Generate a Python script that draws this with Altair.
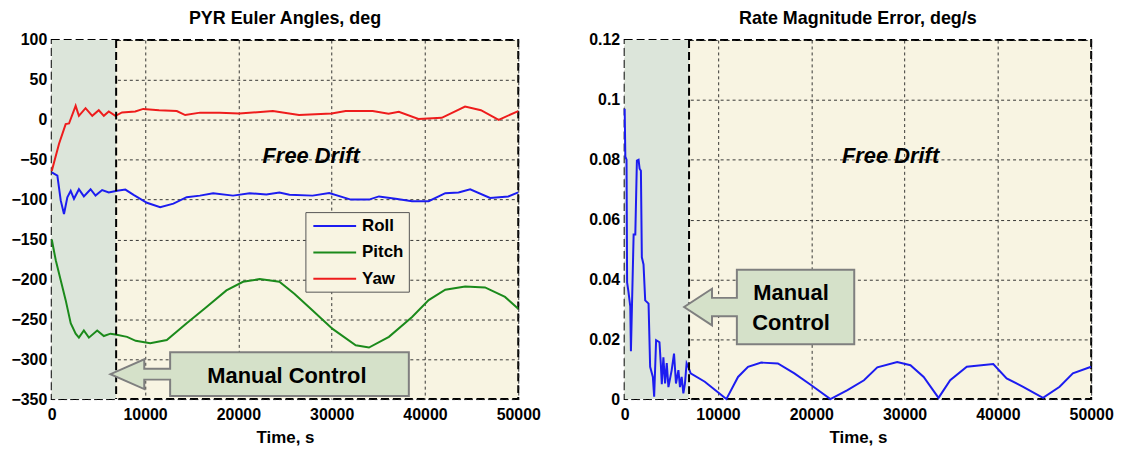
import altair as alt
import pandas as pd

# ---------------- data ----------------
time_ticks = [0, 10000, 20000, 30000, 40000, 50000]
euler_ticks = [100, 50, 0, -50, -100, -150, -200, -250, -300, -350]
rate_ticks = [0, 0.02, 0.04, 0.06, 0.08, 0.1, 0.12]
series_names = ["Roll", "Pitch", "Yaw"]
series_colors = ["#1c1cf0", "#1b8a1b", "#ee1c1c"]

roll_t = [0, 600, 960, 1310, 1670, 2030, 2380, 2910, 3440, 4160, 4690, 5400, 6110, 7000,
          7890, 8770, 10200, 11620, 13040, 14460, 15880, 17300, 19430, 21210, 23000, 24400,
          25480, 27960, 29740, 32050, 34000, 35070, 36850, 38620, 40400, 42180, 43600, 44850,
          46980, 48930, 50000]
roll = [-66, -70, -101, -118, -97, -89, -99, -87, -96, -87, -95, -88, -91, -89,
        -87.5, -94, -104, -109.6, -105, -97, -95, -92, -95, -92, -93.7, -91,
        -94, -95, -91.7, -100, -100, -96, -99, -102, -102, -92, -91, -87,
        -98, -96, -91]

pitch_t = [0, 430, 960, 1490, 2030, 2560, 2910, 3440, 3980, 4870, 5580, 6290, 6820, 8070,
           9000, 10550, 12330, 14460, 16590, 18720, 20500, 22280, 24400, 26000, 27960, 30100,
           32580, 34000, 36140, 38620, 40400, 42180, 44310, 46440, 48580, 50000]
pitch = [-150, -176, -201, -226, -255, -268, -273, -264, -273, -264, -271, -268, -269, -272,
         -277, -280, -276, -255, -234.6, -213.8, -203, -199.6, -203, -218, -239, -262,
         -282.5, -285.4, -272, -247, -226, -213, -208.8, -210, -222, -236.7]

yaw_t = [0, 780, 1490, 1850, 2560, 2910, 3620, 4340, 5040, 5580, 6110, 6820, 7530, 8950,
         9800, 11500, 13400, 14300, 15900, 18000, 20100, 23700, 26500, 30000, 31500, 34400,
         36100, 37200, 39300, 41800, 44300, 46000, 47900, 50000]
yaw = [-64, -30, -5.4, -4.6, 17.5, 5, 14.6, 5, 12, 5, 10.4, 5, 9.2, 10.4,
       13.7, 12, 11, 6, 9, 9, 8, 11, 6, 8, 11, 11,
       7.5, 10, 1, 2.5, 16.6, 12, 0, 11]

rate_t = [0, 70, 200, 260, 400, 600, 670, 960, 1140, 1310,
          1490, 1600, 1740, 1840, 2020, 2200, 2560, 2730, 3020, 3160,
          3370, 3730, 3870, 3980, 4150, 4330, 4510, 4690, 5040, 5290,
          5500, 5760, 5930, 6110, 6290, 6460, 6640, 6820, 7070, 8590,
          10900, 12150, 13220, 14640, 16420, 18190, 19970, 22050, 23880, 25650,
          27080, 29210, 30630, 32050, 33640, 34890, 36670, 39510, 40940, 42710,
          44840, 46620, 48040, 50000]
rate = [0.097, 0.081, 0.080, 0.039, 0.036, 0.031, 0.016, 0.055, 0.055, 0.0797,
        0.080, 0.077, 0.0763, 0.0474, 0.045, 0.033, 0.0319, 0.0108, 0.0074, 0.0008,
        0.0197, 0.019, 0.0119, 0.005, 0.014, 0.0052, 0.012, 0.004, 0.0097, 0.0152,
        0.0052, 0.0097, 0.004, 0.0074, 0.0019, 0.0052, 0.012, 0.0108, 0.0086, 0.0058,
        0.0, 0.0074, 0.0108, 0.0122, 0.0119, 0.0086, 0.0047, 0.0, 0.003, 0.0063,
        0.0106, 0.0124, 0.0113, 0.0074, 0.0004, 0.0063, 0.0108, 0.0117, 0.0069, 0.0041,
        0.0004, 0.0041, 0.0086, 0.0108]

manual_end = 6900

# annotation anchors (data units)
euler_free = (27800, -45)
euler_callout = (25480, -318.75)
euler_callout_text = (25200, -321)
rate_free = (28500, 0.0813)
rate_callout = (18316, 0.03077)
rate_callout_text = [("Manual", 17830, 0.0353), ("Control", 17830, 0.0253)]

# ---------------- style ----------------
FONT = "Liberation Sans"
BEIGE = "#F8F4E2"
SHADE = "#DCE5DA"
CALLOUT_FILL = "#D5E1C9"
CALLOUT_STROKE = "#7f7f7f"
W, H = 469, 361

LEFT_CALLOUT = ("M -120 -22 L 120 -22 L 120 22 L -120 22 L -120 5.5 L -146 5.5 L -146 15 "
                "L -180 0 L -146 -15 L -146 -5.5 L -120 -5.5 Z")
RIGHT_CALLOUT = ("M -59 -37.5 L 59 -37.5 L 59 37.5 L -59 37.5 L -59 9.2 L -84 9.2 L -84 18.4 "
                 "L -112 0 L -84 -18.4 L -84 -9.2 L -59 -9.2 Z")
LEGEND_SYMBOL = "M -0.75 0 L 4.625 0"


def x_axis():
    return alt.Axis(values=time_ticks, format="d", title="Time, s", labelFlush=False,
                    labelOverlap=False, titlePadding=7, labelPadding=8)


def x_enc(field="t"):
    return alt.X(f"{field}:Q", scale=alt.Scale(domain=[0, 50000], nice=False, zero=False),
                 axis=x_axis())


def y_enc(field, domain, ticks, fmt):
    return alt.Y(f"{field}:Q", scale=alt.Scale(domain=domain, nice=False, zero=False),
                 axis=alt.Axis(values=ticks, format=fmt, title=None, labelPadding=5,
                               minExtent=34, maxExtent=34))


def panel(lines_df, ydom, yticks, yfmt, color_enc, title, free_xy, callout_xy, callout_path,
          callout_texts):
    Y = lambda f="v": y_enc(f, ydom, yticks, yfmt)
    shade = alt.Chart(pd.DataFrame({"t": [0], "t2": [manual_end],
                                    "v": [ydom[0]], "v2": [ydom[1]]})).mark_rect(
        fill=SHADE, opacity=1).encode(x=x_enc(), x2="t2:Q", y=Y(), y2="v2:Q")
    lines = alt.Chart(lines_df).mark_line(strokeWidth=2).encode(
        x=x_enc(), y=Y(), color=color_enc, detail="s:N", order="t:Q")
    rule = alt.Chart(pd.DataFrame({"t": [manual_end]})).mark_rule(
        color="black", strokeDash=[8, 4], strokeWidth=2).encode(x=x_enc())
    free = alt.Chart(pd.DataFrame({"t": [free_xy[0]], "v": [free_xy[1]],
                                   "label": ["Free Drift"]})).mark_text(
        font=FONT, fontSize=22, fontWeight="bold", fontStyle="italic", color="black",
        baseline="middle", align="center").encode(x=x_enc(), y=Y(), text="label:N")
    callout = alt.Chart(pd.DataFrame({"t": [callout_xy[0]], "v": [callout_xy[1]]})).mark_point(
        shape=callout_path, size=4, filled=True, fill=CALLOUT_FILL, stroke=CALLOUT_STROKE,
        strokeWidth=2, opacity=1).encode(x=x_enc(), y=Y())
    ctext = alt.Chart(pd.DataFrame({"t": [c[1] for c in callout_texts],
                                    "v": [c[2] for c in callout_texts],
                                    "label": [c[0] for c in callout_texts]})).mark_text(
        font=FONT, fontSize=22, fontWeight="bold", color="black", baseline="middle",
        align="center").encode(x=x_enc(), y=Y(), text="label:N")
    return alt.layer(shade, lines, rule, free, callout, ctext).properties(
        width=W, height=H,
        title=alt.TitleParams(title, font=FONT, fontSize=18, fontWeight="bold",
                              color="black", offset=4, anchor="middle"))


euler_df = pd.concat([
    pd.DataFrame({"t": roll_t, "v": roll, "s": "Roll"}),
    pd.DataFrame({"t": pitch_t, "v": pitch, "s": "Pitch"}),
    pd.DataFrame({"t": yaw_t, "v": yaw, "s": "Yaw"}),
], ignore_index=True)
rate_df = pd.DataFrame({"t": rate_t, "v": rate, "s": "Rate"})

euler_color = alt.Color("s:N", scale=alt.Scale(domain=series_names, range=series_colors),
                        legend=alt.Legend(title=None, orient="none", legendX=255, legendY=173,
                                          fillColor=BEIGE, strokeColor="#555555", padding=5,
                                          labelFont=FONT, labelFontWeight="bold",
                                          labelFontSize=17, labelColor="black",
                                          symbolType=LEGEND_SYMBOL, symbolSize=256,
                                          symbolStrokeWidth=2, labelOffset=34, rowPadding=9.5,
                                          zindex=2))
rate_color = alt.value("#1c1cf0")

left = panel(euler_df, [-350, 100], euler_ticks, "d", euler_color, "PYR Euler Angles, deg",
             euler_free, euler_callout, LEFT_CALLOUT,
             [("Manual Control", euler_callout_text[0], euler_callout_text[1])])
right = panel(rate_df, [0, 0.12], rate_ticks, ".2~f", rate_color, "Rate Magnitude Error, deg/s",
              rate_free, rate_callout, RIGHT_CALLOUT, rate_callout_text)

chart = alt.hconcat(left, right, spacing=45).properties(
    padding={"left": 1, "top": 0, "right": 5, "bottom": 5}
).configure(
    background="white", font=FONT
).configure_view(
    fill=BEIGE, stroke="black", strokeDash=[8, 4], strokeWidth=2
).configure_axis(
    labelFont=FONT, labelFontWeight="bold", labelFontSize=16, labelColor="black",
    titleFont=FONT, titleFontWeight="bold", titleFontSize=17, titleColor="black",
    ticks=False, domain=False, grid=True, gridColor="#222222", gridDash=[3, 3],
    gridWidth=1, gridOpacity=0.9, zindex=1
)

chart.save("out.html", embed_options={"renderer": "svg", "actions": False})
